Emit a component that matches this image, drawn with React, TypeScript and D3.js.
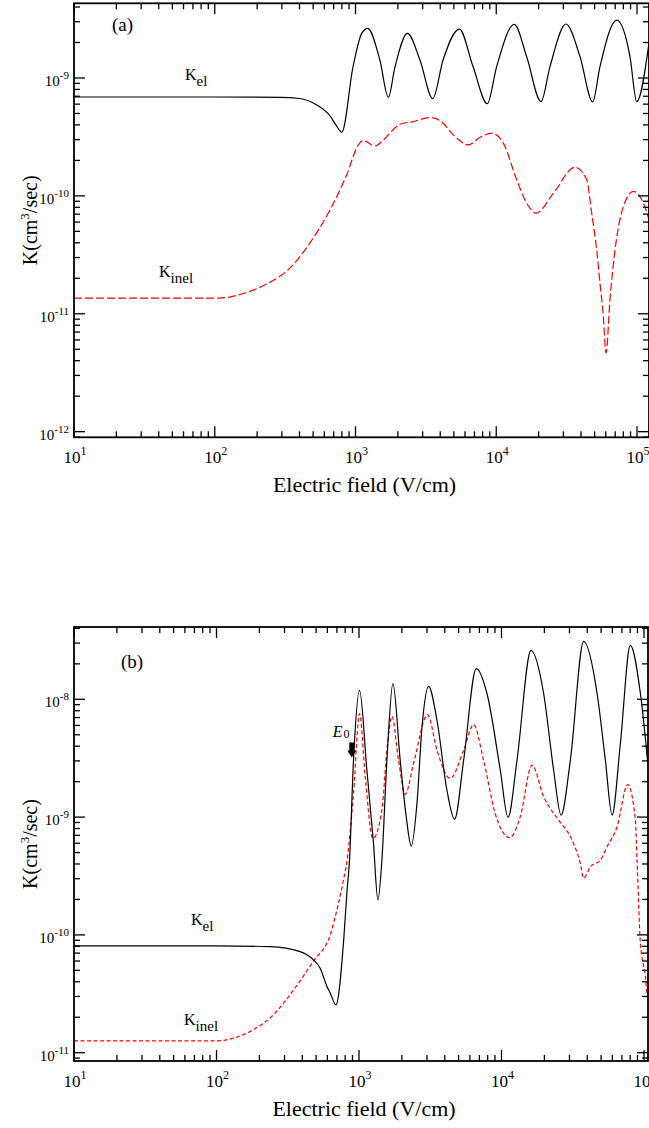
import React from 'react';
import * as d3 from 'd3';

type Pt = [number, number];

// Panel (a): [field V/cm, rate cm^3/s]
const elA: Pt[] = [
  [10, 6.9e-10], [100, 6.9e-10], [290, 6.85e-10], [400, 6.7e-10], [530, 5.9e-10],
  [660, 4.76e-10], [725, 4.0e-10], [800, 3.47e-10], [960, 1.24e-9], [1107, 2.39e-9],
  [1220, 2.64e-9], [1490, 1.42e-9], [1710, 6.86e-10], [1910, 1.25e-9], [2340, 2.39e-9],
  [2870, 1.42e-9], [3540, 6.68e-10], [4190, 1.42e-9], [5470, 2.6e-9], [6840, 1.25e-9],
  [8640, 6.05e-10], [10070, 1.25e-9], [13430, 2.85e-9], [16440, 1.52e-9], [20790, 6.3e-10],
  [24090, 1.25e-9], [31290, 2.87e-9], [39350, 1.52e-9], [48430, 6.27e-10], [54580, 1.25e-9],
  [71760, 3.1e-9], [89150, 1.52e-9], [99530, 6.3e-10], [121700, 1.98e-9],
];

const inelA: Pt[] = [
  [10, 1.36e-11], [107, 1.36e-11], [164, 1.5e-11], [234, 1.79e-11], [343, 2.45e-11],
  [475, 4.0e-11], [659, 7.6e-11], [866, 1.51e-10], [1048, 2.71e-10],
  [1130, 2.95e-10], [1377, 2.65e-10], [1578, 2.98e-10], [2071, 4.05e-10], [2576, 4.27e-10],
  [3383, 4.61e-10], [3984, 4.35e-10], [4955, 3.29e-10], [6329, 2.71e-10], [7666, 3.14e-10],
  [9291, 3.4e-10], [11230, 2.8e-10], [13970, 1.37e-10], [16440, 8.67e-11], [19150, 7.13e-11],
  [25430, 1.05e-10], [36280, 1.75e-10], [43950, 1.37e-10], [47640, 7.13e-11], [51750, 3.48e-11],
  [54580, 1.82e-11], [57660, 9.48e-12], [60260, 4.65e-12], [64270, 1.32e-11], [69790, 3.48e-11],
  [79970, 8.11e-11], [94200, 1.09e-10], [110900, 8.67e-11], [121700, 6.27e-11],
];

// Panel (b)
const elB: Pt[] = [
  [10, 8.07e-11], [100, 8.07e-11], [238, 7.95e-11], [386, 7.22e-11], [479, 6.14e-11],
  [534, 5.22e-11], [596, 3.65e-11], [628, 3.21e-11], [689, 2.55e-11], [778, 8.51e-11],
  [822, 2.26e-10], [858, 4.32e-10], [915, 3.04e-9], [1009, 1.19e-8], [1136, 2.5e-9],
  [1264, 5.98e-10], [1357, 1.98e-10], [1448, 4.32e-10], [1570, 3.04e-9], [1730, 1.36e-8],
  [1946, 3.04e-9], [2144, 1.01e-9], [2326, 5.68e-10], [2552, 1.31e-9], [2768, 5.82e-9],
  [3079, 1.29e-8], [3525, 6.64e-9], [4143, 1.69e-9], [4685, 9.57e-10], [5425, 3.04e-9],
  [6655, 1.82e-8], [7907, 1.12e-8], [9809, 2.5e-9], [11110, 9.93e-10], [12850, 3.04e-9],
  [16110, 2.6e-8], [19760, 1.12e-8], [23230, 2.5e-9], [26180, 1.04e-9], [30430, 3.04e-9],
  [37740, 3.1e-8], [46880, 1.12e-8], [53580, 3.04e-9], [59720, 1.04e-9], [68270, 4.22e-9],
  [80200, 2.87e-8], [94380, 1.12e-8], [109100, 2.06e-9],
];

const inelB: Pt[] = [
  [10, 1.26e-11], [101, 1.26e-11], [131.5, 1.33e-11], [181.7, 1.57e-11], [251, 2.1e-11],
  [347, 3.4e-11], [479, 6.0e-11], [628, 1.0e-10], [663, 1.26e-10],
  [778, 2.92e-10], [822, 4.16e-10], [915, 1.59e-9], [1009, 7.57e-9], [1106, 2.2e-9],
  [1252, 6.59e-10], [1448, 1.15e-9], [1570, 3.7e-9], [1703, 7.18e-9], [1894, 3.04e-9],
  [2110, 1.56e-9], [2415, 2.85e-9], [3030, 7.42e-9], [3525, 3.7e-9], [4369, 2.13e-9],
  [5425, 3.7e-9], [6373, 6.1e-9], [7485, 3.04e-9], [9041, 1.07e-9], [11400, 6.68e-10],
  [13550, 1.01e-9], [16370, 2.76e-9], [19760, 1.49e-9], [25180, 9.44e-10], [31270, 6.38e-10],
  [35740, 4.05e-10], [37740, 3.03e-10], [42070, 3.79e-10], [49440, 4.32e-10], [55080, 5.6e-10],
  [64750, 8.28e-10], [76840, 1.89e-9], [87010, 9.44e-10], [89400, 4.32e-10], [94380, 8.51e-11],
  [102300, 4.44e-11], [105100, 3.21e-11], [107000, 4.5e-11],
];

// threshold field E0 marked in panel (b)
const E0: Pt = [890, 3.2e-9];

const FONT = '"Liberation Serif", "DejaVu Serif", "Times New Roman", Times, serif';

function logTicks(lo: number, hi: number) {
  const major: number[] = [];
  const minor: number[] = [];
  for (let k = Math.floor(Math.log10(lo)); k <= Math.ceil(Math.log10(hi)); k++) {
    const p = Math.pow(10, k);
    if (p >= lo * 0.999 && p <= hi * 1.001) major.push(p);
    for (let m = 2; m <= 9; m++) {
      const v = m * p;
      if (v >= lo && v <= hi) minor.push(v);
    }
  }
  return { major, minor };
}

function Panel(props: {
  id: string;
  box: { left: number; right: number; top: number; bottom: number };
  xMax: number;
  yDom: [number, number];
  el: Pt[];
  inel: Pt[];
  dash: string;
  tag: string;
  tagPos: [number, number];
  elPos: [number, number];
  inelPos: [number, number];
  e0?: Pt;
}) {
  const { id, box, xMax, yDom, el, inel, dash, tag, tagPos, elPos, inelPos, e0 } = props;
  const x = d3.scaleLog().domain([10, xMax]).range([box.left, box.right]);
  const y = d3.scaleLog().domain(yDom).range([box.bottom, box.top]);
  const line = d3.line<Pt>().x(d => x(d[0])).y(d => y(d[1])).curve(d3.curveMonotoneX);
  const xt = logTicks(10, xMax);
  const yt = logTicks(yDom[0], yDom[1]);
  const MAJ = 11, MIN = 6;
  const tickStyle = { stroke: '#000', strokeWidth: 1.3 };

  return (
    <g>
      <defs>
        <clipPath id={id}>
          <rect x={box.left} y={box.top} width={box.right - box.left} height={box.bottom - box.top} />
        </clipPath>
      </defs>
      <g clipPath={`url(#${id})`}>
        <path d={line(inel) || ''} fill="none" stroke="#ff0000" strokeWidth={1.2} strokeDasharray={dash} />
        <path d={line(el) || ''} fill="none" stroke="#000" strokeWidth={1.2} />
      </g>
      <rect x={box.left} y={box.top} width={box.right - box.left} height={box.bottom - box.top}
        fill="none" stroke="#000" strokeWidth={1.8} />
      {xt.major.concat(xt.minor).map((v, i) => {
        const len = xt.major.includes(v) ? MAJ : MIN;
        const px = x(v);
        return (
          <g key={'x' + i}>
            <line x1={px} x2={px} y1={box.bottom} y2={box.bottom - len} {...tickStyle} />
            <line x1={px} x2={px} y1={box.top} y2={box.top + len} {...tickStyle} />
          </g>
        );
      })}
      {yt.major.concat(yt.minor).map((v, i) => {
        const len = yt.major.includes(v) ? MAJ : MIN;
        const py = y(v);
        return (
          <g key={'y' + i}>
            <line x1={box.left} x2={box.left + len} y1={py} y2={py} {...tickStyle} />
            <line x1={box.right} x2={box.right - len} y1={py} y2={py} {...tickStyle} />
          </g>
        );
      })}
      <g style={{ fontFamily: FONT }}>
        {xt.major.map(v => (
          <text key={'xl' + v} x={x(v) + 1} y={box.bottom + 26} textAnchor="middle" fontSize={17}>
            10<tspan dy={-8} fontSize={12}>{Math.round(Math.log10(v))}</tspan>
          </text>
        ))}
        {yt.major.map(v => (
          <text key={'yl' + v} x={box.left - 5} y={y(v) + 8} textAnchor="end" fontSize={15}>
            10<tspan dy={-7} fontSize={11}>{Math.round(Math.log10(v))}</tspan>
          </text>
        ))}
        <text x={(box.left + box.right) / 2 + 3} y={box.bottom + 55} textAnchor="middle" fontSize={22}>
          Electric field (V/cm)
        </text>
        <text transform={`translate(37,${(box.top + box.bottom) / 2}) rotate(-90)`} textAnchor="middle" fontSize={20}>
          K(cm<tspan dy={-8} fontSize={13}>3</tspan><tspan dy={8}>/sec)</tspan>
        </text>
        <text x={tagPos[0]} y={tagPos[1]} fontSize={19}>{tag}</text>
        <text x={elPos[0]} y={elPos[1]} fontSize={16}>
          K<tspan dy={6} fontSize={15}>el</tspan>
        </text>
        <text x={inelPos[0]} y={inelPos[1]} fontSize={16}>
          K<tspan dy={6} fontSize={15}>inel</tspan>
        </text>
        {e0 && (() => {
          const ax = x(e0[0]);
          const ay = y(e0[1]);
          return (
            <g>
              <text x={ax - 19} y={ay - 21} fontSize={16} fontStyle="italic">
                E<tspan fontStyle="normal" fontSize={12} dx={1} dy={1}>0</tspan>
              </text>
              <path d={`M${ax - 2.5},${ay - 15} L${ax + 2.5},${ay - 15} L${ax + 2.5},${ay - 7} L${ax + 4.5},${ay - 7} L${ax},${ay} L${ax - 4.5},${ay - 7} L${ax - 2.5},${ay - 7} Z`}
                fill="#000" />
            </g>
          );
        })()}
      </g>
    </g>
  );
}

export default function App() {
  return (
    <svg width={649} height={1128} style={{ position: 'absolute', left: 0, top: 0, background: '#fff' }}>
      <Panel id="clipA" box={{ left: 74, right: 649, top: 3.3, bottom: 437.3 }} xMax={121700}
        yDom={[8.96e-13, 4.3e-9]} el={elA} inel={inelA} dash="8,3" tag="(a)" tagPos={[112, 31]}
        elPos={[185, 80]} inelPos={[159, 277]} />
      <Panel id="clipB" box={{ left: 74, right: 648, top: 627, bottom: 1061 }} xMax={106700}
        yDom={[8.5e-12, 4.11e-8]} el={elB} inel={inelB} dash="4,2.5" tag="(b)" tagPos={[121, 668]}
        elPos={[191, 925]} inelPos={[184, 1025]} e0={E0} />
    </svg>
  );
}
